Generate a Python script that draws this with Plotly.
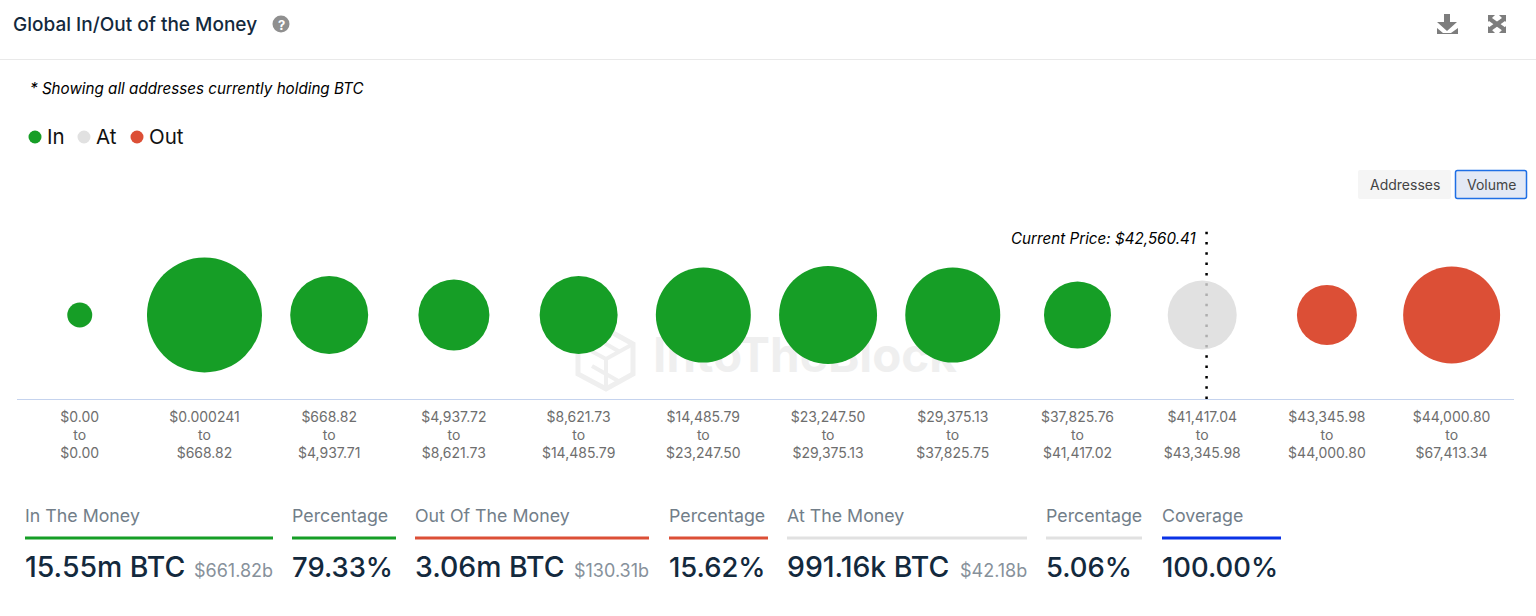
import plotly.graph_objects as go

W = 1536
H = 616
FONT = "Inter"
DARK = "#13293d"
GREY = "#727e89"
GREEN = "#169e26"
RED = "#dc4f36"
AT_GREY = "#e1e1e1"
BLUE = "#0a32e6"

range_low = ["$0.00", "$0.000241", "$668.82", "$4,937.72", "$8,621.73", "$14,485.79",
             "$23,247.50", "$29,375.13", "$37,825.76", "$41,417.04", "$43,345.98", "$44,000.80"]
range_high = ["$0.00", "$668.82", "$4,937.71", "$8,621.73", "$14,485.79", "$23,247.50",
              "$29,375.13", "$37,825.75", "$41,417.02", "$43,345.98", "$44,000.80", "$67,413.34"]
# volume per bucket, thousands of BTC
volume_in = [130, 2753, 1266, 1049, 1266, 1878, 1998, 1878, 934]
volume_at = [991.16]
volume_out = [749, 1958]

stat_labels = ["In The Money", "Percentage", "Out Of The Money", "Percentage",
               "At The Money", "Percentage", "Coverage"]
stat_values = ["15.55m BTC", "79.33%", "3.06m BTC", "15.62%", "991.16k BTC", "5.06%", "100.00%"]
stat_usd = ["$661.82b", "", "$130.31b", "", "$42.18b", "", ""]
stat_colors = [GREEN, GREEN, RED, RED, AT_GREY, AT_GREY, BLUE]
stat_left = [25, 292, 415, 669, 787, 1046, 1162]
stat_right = [273, 396, 649, 768, 1027, 1142, 1281]

legend_names = ["In", "At", "Out"]
legend_colors = [GREEN, AT_GREY, RED]
legend_dot_x = [35, 84, 137]

current_price = "$42,560.41"
current_price_pos = 9.035


def xp(x):
    return x / W


def yp(y):
    return 1 - y / H


def label(text, x, y, size, color=DARK, anchor="left", weight=400, style="normal"):
    return dict(text=text, xref="paper", yref="paper", x=xp(x), y=yp(y), xanchor=anchor, yanchor="middle",
                showarrow=False, borderpad=0, borderwidth=0,
                font=dict(family=FONT, size=size, color=color, weight=weight, style=style))


def px_path(d, fill=None, line=None, width=0, layer="above"):
    # path in page pixels, turned into paper coordinates
    out = []
    for tok in d.split():
        if "," in tok:
            a, b = tok.split(",")
            out.append(f"{xp(float(a)):.5f},{yp(float(b)):.5f}")
        else:
            out.append(tok)
    return dict(type="path", xref="paper", yref="paper", path=" ".join(out), layer=layer,
                fillcolor=fill or "rgba(0,0,0,0)",
                line=dict(color=line or "rgba(0,0,0,0)", width=width))


def rounded(x0, y0, x1, y1, r):
    return (f"M {x0 + r},{y0} L {x1 - r},{y0} Q {x1},{y0} {x1},{y0 + r} L {x1},{y1 - r} Q {x1},{y1} {x1 - r},{y1} "
            f"L {x0 + r},{y1} Q {x0},{y1} {x0},{y1 - r} L {x0},{y0 + r} Q {x0},{y0} {x0 + r},{y0} Z")


def circle(cx, cy, r, color):
    return dict(type="circle", xref="paper", yref="paper", x0=xp(cx - r), x1=xp(cx + r), y0=yp(cy + r), y1=yp(cy - r),
                fillcolor=color, line=dict(width=0))


categories = [f"{a}<br>to<br>{b}" for a, b in zip(range_low, range_high)]

fig = go.Figure()
size_ref = 2 * volume_at[0] / 69 ** 2
n_in = len(volume_in)
groups = [("In", categories[:n_in], volume_in, GREEN),
          ("At", categories[n_in:n_in + 1], volume_at, "rgba(217,217,217,0.8)"),
          ("Out", categories[n_in + 1:], volume_out, RED)]
for name, xs, vols, color in groups:
    fig.add_scatter(x=xs, y=[0] * len(vols), name=name, mode="markers", cliponaxis=False,
                    marker=dict(size=vols, sizemode="area", sizeref=size_ref, color=color, opacity=1,
                                line=dict(width=0)))

shapes = [
    dict(type="line", xref="paper", yref="paper", x0=0, x1=1, y0=yp(59.5), y1=yp(59.5),
         line=dict(color="#e9e9e9", width=1)),
    # current price marker
    dict(type="line", xref="x", yref="y domain", x0=current_price_pos, x1=current_price_pos, y0=0, y1=1,
         layer="below", line=dict(color="black", width=2.5, dash="2.5px,7.8px")),
    # help icon
    circle(281, 24, 8.5, "#8f8f8f"),
    # buttons
    px_path(rounded(1358, 170, 1451, 199, 2), fill="#f5f5f5"),
    px_path(rounded(1455.5, 170.5, 1526.5, 198.5, 2), fill="#e3e9f5", line="#1f6fe5", width=1.5),
    # download icon
    px_path("M 1444,14 L 1450,14 L 1450,22 L 1457,22 L 1447,31 L 1437,22 L 1444,22 Z", fill="#7d7d7d"),
    px_path("M 1437,28 L 1443,33 L 1451,33 L 1458,28 L 1458,34 L 1437,34 Z", fill="#7d7d7d"),
    # expand icon
    px_path("M 1488,15 L 1495,15 L 1492,18 L 1506,28 L 1503,31 L 1489,21 L 1488,22 Z", fill="#7d7d7d"),
    px_path("M 1506,15 L 1499,15 L 1502,18 L 1488,28 L 1491,31 L 1505,21 L 1506,22 Z", fill="#7d7d7d"),
    px_path("M 1488,33 L 1495,33 L 1488,26 Z", fill="#7d7d7d"),
    px_path("M 1506,33 L 1499,33 L 1506,26 Z", fill="#7d7d7d"),
    # watermark
    dict(type="rect", xref="paper", yref="paper", x0=xp(640), x1=xp(970), y0=yp(378), y1=yp(328), layer="below",
         line=dict(width=0), fillcolor="rgba(0,0,0,0)",
         label=dict(text="IntoTheBlock", textposition="middle center",
                    font=dict(family=FONT, size=47.5, color="#efefef", weight=700))),
    px_path("M 606,329 L 633,344 L 633,374 L 606,389 L 578,374 L 578,344 Z", line="#efefef", width=5, layer="below"),
    px_path("M 578,344 L 606,359 L 633,344 M 606,359 L 606,389 M 592,336 L 620,352 M 592,366 L 620,382",
            line="#efefef", width=4, layer="below"),
]

annotations = [
    label("Global In/Out of the Money", 13, 24, 19, weight=500),
    label("?", 281, 24.5, 13, color="white", anchor="center", weight=700),
    label("* Showing all addresses currently holding BTC", 30, 88.5, 15.2, color="black", style="italic"),
    label("Addresses", 1404.5, 184.5, 14, color="#444", anchor="center"),
    label("Volume", 1491, 184.5, 14, color="#444", anchor="center"),
    label(f"Current Price: {current_price}", 1196, 238, 15.2, color="black", anchor="right", style="italic"),
]

for name, color, dot_x in zip(legend_names, legend_colors, legend_dot_x):
    shapes.append(circle(dot_x, 137, 6.5, color))
    annotations.append(label(name, dot_x + 12, 136.5, 20.5, color="#111"))

for i, text in enumerate(stat_labels):
    left, right = stat_left[i], stat_right[i]
    annotations.append(label(text, left, 515.5, 17.8, color=GREY))
    shapes.append(dict(type="rect", xref="paper", yref="paper", x0=xp(left), x1=xp(right), y0=yp(539.5), y1=yp(536.5),
                       fillcolor=stat_colors[i], line=dict(width=0)))
    value_size = 28.4 if "BTC" in stat_values[i] else 27.4
    annotations.append(label(stat_values[i], left, 566.5, value_size, weight=500))
    if stat_usd[i]:
        annotations.append(label(stat_usd[i], right, 570, 18, color="#87919b", anchor="right"))

fig.update_layout(
    width=W,
    height=H,
    margin=dict(l=0, r=0, t=0, b=0),
    paper_bgcolor="white",
    plot_bgcolor="rgba(0,0,0,0)",
    showlegend=False,
    shapes=shapes,
    annotations=annotations,
    font=dict(family=FONT),
    xaxis=dict(domain=[xp(17.4), xp(1514)], type="category", categoryorder="array", categoryarray=categories,
               range=[-0.5, 11.5], showgrid=False, zeroline=False, showline=True, linecolor="#c5d3ee", linewidth=1,
               ticks="", tickangle=0, tickfont=dict(family=FONT, size=14, color="#6e6e6e"), ticklabelstandoff=5),
    yaxis=dict(domain=[yp(399), yp(231)], range=[-84, 84], visible=False),
)

fig.write_html("out.html", config=dict(displayModeBar=False), post_script="document.body.style.margin='0';")
